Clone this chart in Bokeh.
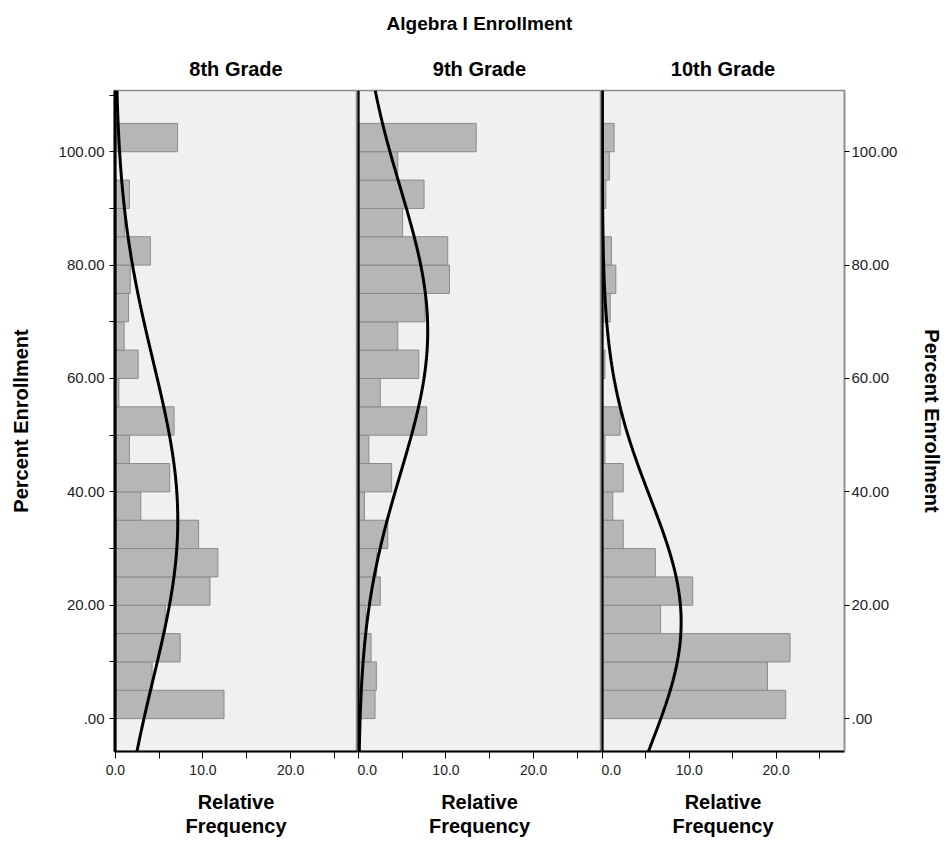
import numpy as np
from bokeh.plotting import figure
from bokeh.models import Range1d, FixedTicker, LinearAxis, Span, Title
from bokeh.layouts import row
from bokeh.embed import file_html
from bokeh.resources import INLINE

# ---------------- data ----------------
main_title = "Algebra I Enrollment"
grades = ["8th Grade", "9th Grade", "10th Grade"]
x_label = "Relative\nFrequency"
y_label = "Percent Enrollment"

# lower edges of the 5-point enrollment bins
bin_low = [0, 5, 10, 15, 20, 25, 30, 35, 40, 45, 50,
           55, 60, 65, 70, 75, 80, 85, 90, 95, 100]
bin_width = 5

# relative frequency (%) per bin, bottom bin first
freq_8th = [12.4, 4.2, 7.4, 5.7, 10.8, 11.7, 9.5, 2.9, 6.2, 1.6, 6.7,
            0.4, 2.6, 1.0, 1.5, 1.7, 4.0, 1.05, 1.6, 0.0, 7.1]
freq_9th = [1.9, 2.05, 1.45, 0.85, 2.5, 2.1, 3.35, 0.7, 3.8, 1.2, 7.8,
            2.5, 6.9, 4.5, 7.6, 10.4, 10.2, 5.05, 7.5, 4.5, 13.45]
freq_10th = [21.1, 19.0, 21.6, 6.7, 10.4, 6.1, 2.4, 1.2, 2.4, 0.3, 2.05,
             0.0, 0.3, 0.0, 0.9, 1.55, 1.05, 0.0, 0.4, 0.8, 1.35]
freqs = [freq_8th, freq_9th, freq_10th]

# fitted normal curves (mean, sd of percent enrollment)
normal_mean = [35.0, 68.4, 17.0]
normal_sd = [28.0, 25.2, 22.0]

x_ticks = [0, 10, 20]
x_minor_ticks = [5, 15, 25]
x_tick_labels = ["0.0", "10.0", "20.0"]
y_ticks = [0, 20, 40, 60, 80, 100]
y_minor_ticks = [10, 30, 50, 70, 90, 110]
y_tick_labels = [".00", "20.00", "40.00", "60.00", "80.00", "100.00"]

# ---------------- style ----------------
FONT = "Liberation Sans"
Y0, Y1 = -5.8, 110.8
PX_PER_UNIT = 8.76
frame_w = [243, 244, 245]
TOP, BOTTOM, H = 90, 89, 840
BG = "#F0F0F0"
BAR_FILL = "#B6B6B6"
BAR_LINE = "#8A8A8A"
OUTLINE = "#8C8C8C"
LABEL_SIZE = "20px"


def style_title(t, size, standoff, valign="bottom"):
    t.align = "center"
    t.vertical_align = valign
    t.text_font = FONT
    t.text_font_size = size
    t.text_font_style = "bold"
    t.text_color = "black"
    t.standoff = standoff


def style_y_axis(a, line_color, line_width, minor, standoff_label):
    a.axis_line_color = line_color
    a.axis_line_width = line_width
    a.major_tick_in = 0
    a.major_tick_out = 5
    a.minor_tick_in = 0
    a.minor_tick_out = 5 if minor else 0
    a.major_tick_line_color = "black"
    a.minor_tick_line_color = "black"
    a.major_label_text_font = FONT
    a.major_label_text_font_size = "15px"
    a.major_label_text_color = "#222222"
    a.axis_label = y_label
    a.axis_label_text_font = FONT
    a.axis_label_text_font_size = LABEL_SIZE
    a.axis_label_text_font_style = "bold"
    a.axis_label_text_color = "black"
    a.axis_label_standoff = standoff_label


figs = []
for i in range(3):
    lb = 114 if i == 0 else 0
    rb = 100 if i == 2 else 0
    x0 = -0.1
    p = figure(width=frame_w[i] + lb + rb, height=H,
               output_backend="svg", toolbar_location=None,
               x_range=Range1d(x0, x0 + frame_w[i] / PX_PER_UNIT),
               y_range=Range1d(Y0, Y1),
               x_axis_type=None, y_axis_type=None,
               min_border_left=lb, min_border_right=rb,
               min_border_top=TOP, min_border_bottom=BOTTOM)
    p.background_fill_color = BG
    p.border_fill_color = "white"
    p.outline_line_color = OUTLINE
    p.outline_line_width = 1.5
    p.grid.visible = False

    # titles
    if i == 1:
        p.title.text = main_title
        style_title(p.title, "19px", 20, valign="middle")
        sub = Title(text=grades[i])
        style_title(sub, LABEL_SIZE, 22)
        p.add_layout(sub, "above")
    else:
        p.title.text = grades[i]
        style_title(p.title, LABEL_SIZE, 22)

    # bars
    mids = [b + bin_width / 2 for b in bin_low]
    p.hbar(y=mids, height=bin_width, left=0, right=freqs[i],
           fill_color=BAR_FILL, line_color=BAR_LINE, line_width=1)

    # normal curve
    yy = np.linspace(Y0, Y1, 400)
    mu, sd = normal_mean[i], normal_sd[i]
    xx = 100 * bin_width * np.exp(-0.5 * ((yy - mu) / sd) ** 2) / (sd * np.sqrt(2 * np.pi))
    p.line(xx, yy, line_color="black", line_width=3)

    # zero line
    p.add_layout(Span(location=0, dimension="height", line_color="black", line_width=2.5))

    # bottom axis
    xa = LinearAxis(ticker=FixedTicker(ticks=x_ticks, minor_ticks=x_minor_ticks),
                    major_label_overrides={t: s for t, s in zip(x_ticks, x_tick_labels)})
    xa.axis_line_color = "black"
    xa.axis_line_width = 2
    xa.major_tick_in = 0
    xa.major_tick_out = 7
    xa.minor_tick_in = 0
    xa.minor_tick_out = 7
    xa.major_tick_line_color = "black"
    xa.minor_tick_line_color = "black"
    xa.major_label_standoff = 6
    xa.major_label_text_font = FONT
    xa.major_label_text_font_size = "14px"
    xa.major_label_text_color = "#222222"
    xa.axis_label = x_label
    xa.axis_label_text_font = FONT
    xa.axis_label_text_font_size = LABEL_SIZE
    xa.axis_label_text_font_style = "bold"
    xa.axis_label_text_color = "black"
    xa.axis_label_text_line_height = 1.1
    xa.axis_label_standoff = 13
    p.add_layout(xa, "below")

    if i == 0:
        ya = LinearAxis(ticker=FixedTicker(ticks=y_ticks, minor_ticks=y_minor_ticks),
                        major_label_overrides={t: s for t, s in zip(y_ticks, y_tick_labels)})
        style_y_axis(ya, "black", 2, True, 24)
        ya.major_label_standoff = 5
        p.add_layout(ya, "left")

    if i == 2:
        ra = LinearAxis(ticker=FixedTicker(ticks=y_ticks, minor_ticks=[]),
                        major_label_overrides={t: s for t, s in zip(y_ticks, y_tick_labels)})
        style_y_axis(ra, OUTLINE, 1.5, False, 21)
        ra.major_label_standoff = 2
        p.add_layout(ra, "right")

    figs.append(p)

layout = row(*figs, spacing=0)
open("out.html", "w").write(file_html(layout, INLINE))
